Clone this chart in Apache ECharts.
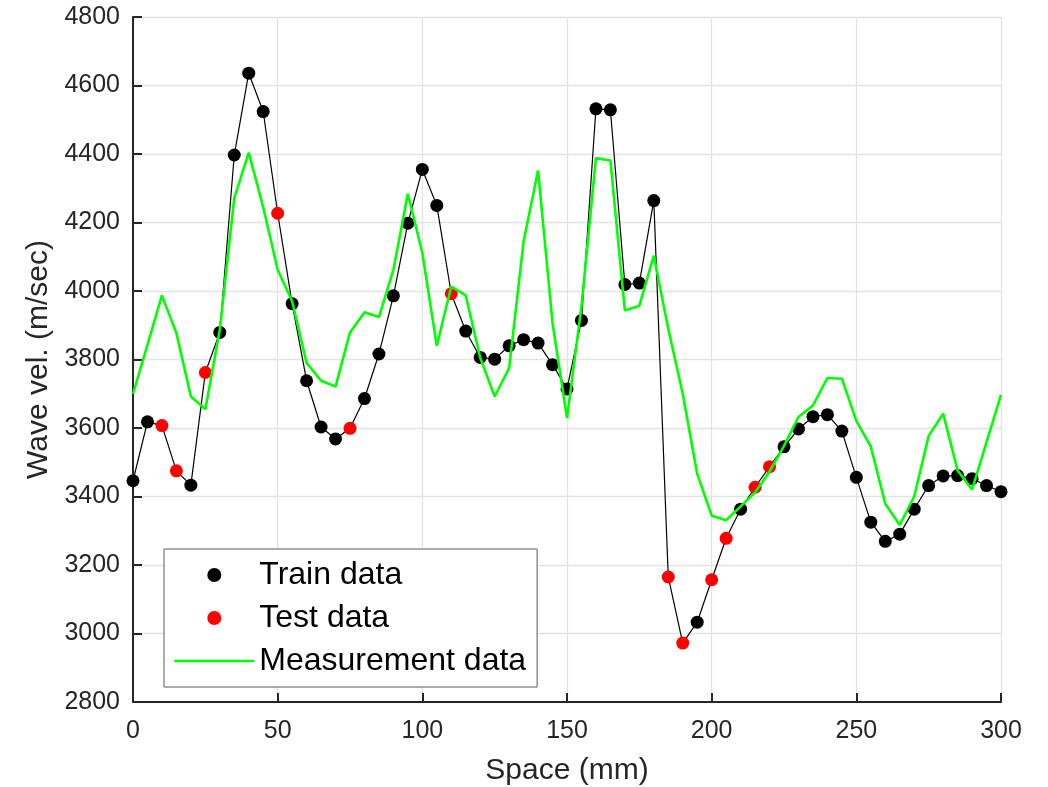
<!DOCTYPE html>
<html>
<head>
<meta charset="utf-8">
<script src="https://cdn.jsdelivr.net/npm/echarts@6/dist/echarts.min.js"></script>
<style>
  html, body { margin: 0; padding: 0; background: #fff; }
  #chart { width: 1048px; height: 787px; }
</style>
</head>
<body>
<div id="chart"></div>
<script>
// Sampling positions along the specimen (mm)
const spaceMm = [
  0, 5, 10, 15, 20, 25, 30, 35, 40, 45, 50, 55, 60, 65, 70, 75, 80, 85, 90, 95,
  100, 105, 110, 115, 120, 125, 130, 135, 140, 145, 150, 155, 160, 165, 170, 175,
  180, 185, 190, 195, 200, 205, 210, 215, 220, 225, 230, 235, 240, 245, 250, 255,
  260, 265, 270, 275, 280, 285, 290, 295, 300
];

// Model wave velocity at every position (m/sec)
const modelVel = [
  3446, 3618, 3607, 3475, 3433, 3762, 3879, 4397, 4636, 4524, 4227, 3963, 3738, 3603, 3568, 3599, 3686, 3816, 3986, 4198,
  4355, 4250, 3992, 3883, 3806, 3801, 3840, 3858, 3848, 3785, 3714, 3914, 4532, 4529, 4019, 4023,
  4264, 3165, 2972, 3033, 3157, 3278, 3363, 3427, 3487, 3545, 3597, 3633, 3639, 3591, 3456, 3325,
  3269, 3290, 3363, 3432, 3460, 3461, 3452, 3432, 3414
];

// Positions held out as test points; all others are training points
const testSpaces = [10, 15, 25, 50, 75, 110, 185, 190, 200, 205, 215, 220];

// Measured wave velocity (m/sec)
const measuredVel = [
  3700, 3843, 3987, 3877, 3692, 3655, 3887, 4271, 4404, 4245, 4062, 3970, 3790, 3738, 3721, 3879, 3938, 3924, 4062, 4284,
  4111, 3840, 4013, 3987, 3805, 3692, 3775, 4145, 4352, 3906, 3629, 3955, 4388, 4381, 3943, 3957,
  4103, 3890, 3700, 3466, 3344, 3331, 3371, 3412, 3473, 3548, 3632, 3666, 3746, 3744, 3621, 3546,
  3379, 3317, 3400, 3577, 3642, 3476, 3420, 3559, 3697
];

// Axis ticks
const xTicks = [0, 50, 100, 150, 200, 250, 300];
const yTicks = [2800, 3000, 3200, 3400, 3600, 3800, 4000, 4200, 4400, 4600, 4800];

const pairs = (xs, ys) => xs.map((x, i) => [x, ys[i]]);
const modelPts = pairs(spaceMm, modelVel);
const trainPts = modelPts.filter(p => !testSpaces.includes(p[0]));
const testPts = modelPts.filter(p => testSpaces.includes(p[0]));
const measuredPts = pairs(spaceMm, measuredVel);

const FONT = '"Liberation Sans", Arial, Helvetica, sans-serif';
const TXT = '#262626';

const chart = echarts.init(document.getElementById('chart'), null, { renderer: 'canvas' });

const axisCommon = {
  axisLine: { show: true, onZero: false, lineStyle: { color: TXT, width: 2 } },
  axisTick: { show: true, inside: true, length: 9, lineStyle: { color: TXT, width: 2 } },
  splitLine: { show: true, lineStyle: { color: '#e3e3e3', width: 1.3 } },
  nameLocation: 'middle',
  nameTextStyle: { fontFamily: FONT, fontSize: 30, color: TXT }
};

chart.setOption({
  animation: false,
  backgroundColor: '#ffffff',
  grid: { left: 133, right: 47, top: 17, bottom: 85, containLabel: false, outerBoundsMode: 'none' },
  xAxis: Object.assign({}, axisCommon, {
    type: 'value',
    min: xTicks[0],
    max: xTicks[xTicks.length - 1],
    interval: 50,
    name: 'Space (mm)',
    nameGap: 54,
    axisLabel: { fontFamily: FONT, fontSize: 25, color: TXT, margin: 17, formatter: v => String(v) }
  }),
  yAxis: Object.assign({}, axisCommon, {
    type: 'value',
    min: yTicks[0],
    max: yTicks[yTicks.length - 1],
    interval: 200,
    name: 'Wave vel. (m/sec)',
    nameGap: 73,
    nameRotate: 90,
    axisLabel: { fontFamily: FONT, fontSize: 25, color: TXT, margin: 13, formatter: v => String(v) }
  }),
  legend: {
    orient: 'vertical',
    left: 164,
    top: 549,
    padding: [10, 11, 10, 9],
    itemWidth: 80,
    itemHeight: 14,
    itemGap: 11,
    backgroundColor: '#ffffff',
    borderColor: '#5a5a5a',
    borderWidth: 1,
    lineStyle: { width: 2.6 },
    textStyle: { fontFamily: FONT, fontSize: 32, color: '#000', lineHeight: 32 },
    data: [
      'Train data',
      'Test data',
      { name: 'Measurement data', itemStyle: { opacity: 0 }, lineStyle: { width: 2.6, color: '#00ff00' } }
    ]
  },
  series: [
    {
      name: 'Model',
      type: 'line',
      data: modelPts,
      showSymbol: false,
      lineStyle: { color: '#000000', width: 1.2 },
      z: 1,
      silent: true
    },
    {
      name: 'Train data',
      type: 'scatter',
      data: trainPts,
      symbol: 'circle',
      symbolSize: 13,
      itemStyle: { color: '#000000', opacity: 1 },
      z: 2
    },
    {
      name: 'Test data',
      type: 'scatter',
      data: testPts,
      symbol: 'circle',
      symbolSize: 13,
      itemStyle: { color: '#ff0000', opacity: 1 },
      z: 2
    },
    {
      name: 'Measurement data',
      type: 'line',
      data: measuredPts,
      showSymbol: false,
      symbol: 'none',
      lineStyle: { color: '#00ff00', width: 2.6 },
      itemStyle: { color: '#00ff00' },
      z: 3
    }
  ]
});
</script>
</body>
</html>
